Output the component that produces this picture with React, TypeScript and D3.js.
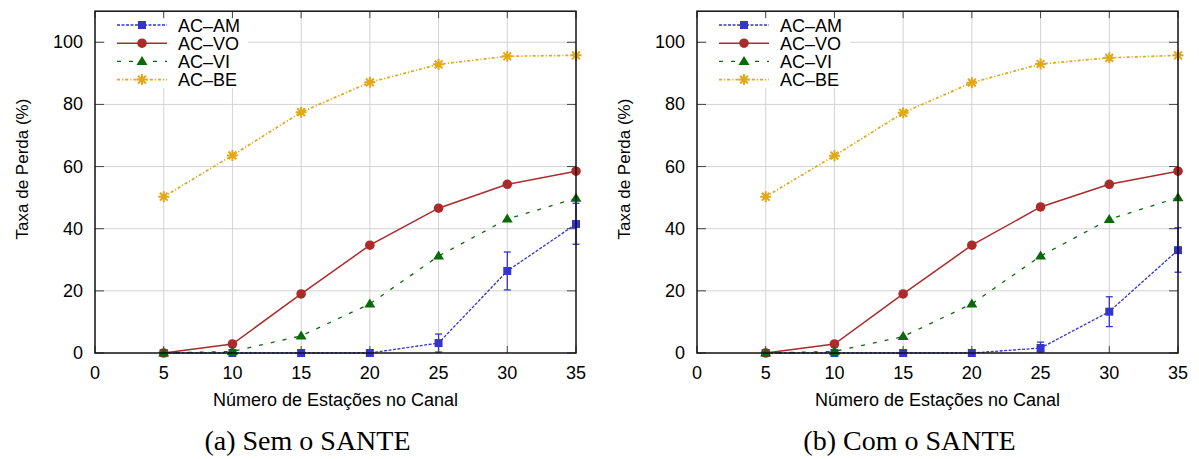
import React from 'react';
import * as d3 from 'd3';

// x values (stations on the channel)
const stations = [5, 10, 15, 20, 25, 30, 35];
const xTicks = [0, 5, 10, 15, 20, 25, 30, 35];
const yTicks = [0, 20, 40, 60, 80, 100];
const seriesNames = ['AC\u2013AM', 'AC\u2013VO', 'AC\u2013VI', 'AC\u2013BE'];

// (a) Sem o SANTE
const semAM = [0, 0, 0, 0, 3.2, 26.4, 41.5];
const semAMLow = [0, 0, 0, 0, 0.3, 20.3, 35];
const semAMHigh = [0, 0, 0, 0, 6.1, 32.5, 48.2];
const semVO = [0, 2.9, 19, 34.7, 46.6, 54.3, 58.5];
const semVI = [0, 0.5, 5.5, 15.8, 31.2, 43.1, 49.8];
const semBE = [50.3, 63.6, 77.5, 87.1, 92.9, 95.5, 95.8];

// (b) Com o SANTE
const comAM = [0, 0, 0, 0, 1.6, 13.3, 33.1];
const comAMLow = [0, 0, 0, 0, 0.3, 8.5, 26];
const comAMHigh = [0, 0, 0, 0, 3.5, 18.1, 40.3];
const comVO = [0, 2.9, 19, 34.7, 47, 54.3, 58.5];
const comVI = [0, 0.5, 5.3, 15.8, 31.2, 43, 50];
const comBE = [50.3, 63.5, 77.3, 87, 93, 95, 95.8];

const colors = ['#3535cc', '#ad2a2a', '#0a6a0a', '#e2a818'];
const dashes = ['3,1.5', null, '4,8', '3,2,1.2,2'];
const widths = [1.3, 1.5, 1.3, 1.7];

const sans = 'Liberation Sans, Arial, sans-serif';
const serif = 'Liberation Serif, Times New Roman, serif';

function Marker({ kind, x, y, color }) {
  if (kind === 0) return <rect x={x - 4} y={y - 4} width={8} height={8} fill={color} />;
  if (kind === 1) return <circle cx={x} cy={y} r={4.8} fill={color} />;
  if (kind === 2) return <path d={`M${x},${y - 5.5}L${x + 5.5},${y + 3.5}L${x - 5.5},${y + 3.5}Z`} fill={color} />;
  const r = 5.5;
  const d = [0, 45, 90, 135]
    .map(a => {
      const t = (a * Math.PI) / 180;
      return `M${x - r * Math.cos(t)},${y - r * Math.sin(t)}L${x + r * Math.cos(t)},${y + r * Math.sin(t)}`;
    })
    .join('');
  return <path d={d} stroke={color} strokeWidth={2} fill="none" />;
}

function Panel({ left, series, low, high, caption }) {
  const x = d3.scaleLinear().domain([0, 35]).range([left, left + 481]);
  const y = d3.scaleLinear().domain([0, 110]).range([353, 11.2]);
  const line = d3.line().x(d => x(d[0])).y(d => y(d[1]));
  const plotL = x(0), plotR = x(35), plotT = y(110), plotB = y(0);
  const legX = left + 22;

  return (
    <g>
      {/* grid */}
      {xTicks.slice(1, -1).map(t => (
        <line key={'gx' + t} x1={x(t)} x2={x(t)} y1={plotT} y2={plotB} stroke="#d3d3d3" strokeWidth={1} />
      ))}
      {yTicks.slice(1).map(t => (
        <line key={'gy' + t} x1={plotL} x2={plotR} y1={y(t)} y2={y(t)} stroke="#d3d3d3" strokeWidth={1} />
      ))}
      {/* legend background */}
      <rect x={left + 10} y={15} width={143} height={73} fill="#fff" />
      {/* ticks */}
      {xTicks.map(t => (
        <g key={'tx' + t}>
          <line x1={x(t)} x2={x(t)} y1={plotB} y2={plotB - 7} stroke="#444" />
          <line x1={x(t)} x2={x(t)} y1={plotT} y2={plotT + 7} stroke="#444" />
          <text x={x(t)} y={379} textAnchor="middle" fontFamily={sans} fontSize={18}>{t}</text>
        </g>
      ))}
      {yTicks.map(t => (
        <g key={'ty' + t}>
          <line x1={plotL} x2={plotL + 9} y1={y(t)} y2={y(t)} stroke="#444" />
          <line x1={plotR} x2={plotR - 9} y1={y(t)} y2={y(t)} stroke="#444" />
          <text x={left - 12} y={y(t) + 6} textAnchor="end" fontFamily={sans} fontSize={18}>{t}</text>
        </g>
      ))}
      {/* series */}
      {series.map((vals, i) => {
        const pts = stations.map((s, j) => [s, vals[j]]);
        return (
          <g key={'s' + i}>
            <path d={line(pts)} fill="none" stroke={colors[i]} strokeWidth={widths[i]}
              strokeDasharray={dashes[i] || undefined} />
            {i === 0 && stations.map((s, j) => high[j] - low[j] > 0.5 ? (
              <g key={'e' + j} stroke={colors[0]} strokeWidth={1.3}>
                <line x1={x(s)} x2={x(s)} y1={y(low[j])} y2={y(high[j])} />
                <line x1={x(s) - 3.5} x2={x(s) + 3.5} y1={y(low[j])} y2={y(low[j])} />
                <line x1={x(s) - 3.5} x2={x(s) + 3.5} y1={y(high[j])} y2={y(high[j])} />
              </g>
            ) : null)}
            {pts.map((p, j) => (
              <Marker key={'m' + j} kind={i} x={x(p[0])} y={y(p[1])} color={colors[i]} />
            ))}
          </g>
        );
      })}
      {/* border */}
      <rect x={plotL} y={plotT} width={plotR - plotL} height={plotB - plotT} fill="none" stroke="#111" strokeWidth={1.5} />
      {/* legend */}
      {seriesNames.map((name, i) => {
        const ly = 25 + i * 18.2;
        return (
          <g key={'l' + i}>
            <line x1={legX} x2={legX + 50} y1={ly} y2={ly} stroke={colors[i]} strokeWidth={widths[i]}
              strokeDasharray={dashes[i] || undefined} />
            <Marker kind={i} x={legX + 25} y={ly} color={colors[i]} />
            <text x={legX + 61} y={ly + 6.5} fontFamily={sans} fontSize={18}>{name}</text>
          </g>
        );
      })}
      {/* axis titles */}
      <text x={(plotL + plotR) / 2} y={406} textAnchor="middle" fontFamily={sans} fontSize={18}>
        Número de Estações no Canal
      </text>
      <text transform={`translate(${left - 67},169) rotate(-90)`} textAnchor="middle" fontFamily={sans} fontSize={17}>
        Taxa de Perda (%)
      </text>
      <text x={(plotL + plotR) / 2 - 28} y={450} textAnchor="middle" fontFamily={serif} fontSize={28}>
        {caption}
      </text>
    </g>
  );
}

export default function App() {
  return (
    <svg width={1199} height={459} style={{ position: 'absolute', left: 0, top: 0, background: '#fff' }}>
      <rect width={1199} height={459} fill="#fff" />
      <Panel left={95} series={[semAM, semVO, semVI, semBE]} low={semAMLow} high={semAMHigh} caption="(a) Sem o SANTE" />
      <Panel left={697} series={[comAM, comVO, comVI, comBE]} low={comAMLow} high={comAMHigh} caption="(b) Com o SANTE" />
    </svg>
  );
}
